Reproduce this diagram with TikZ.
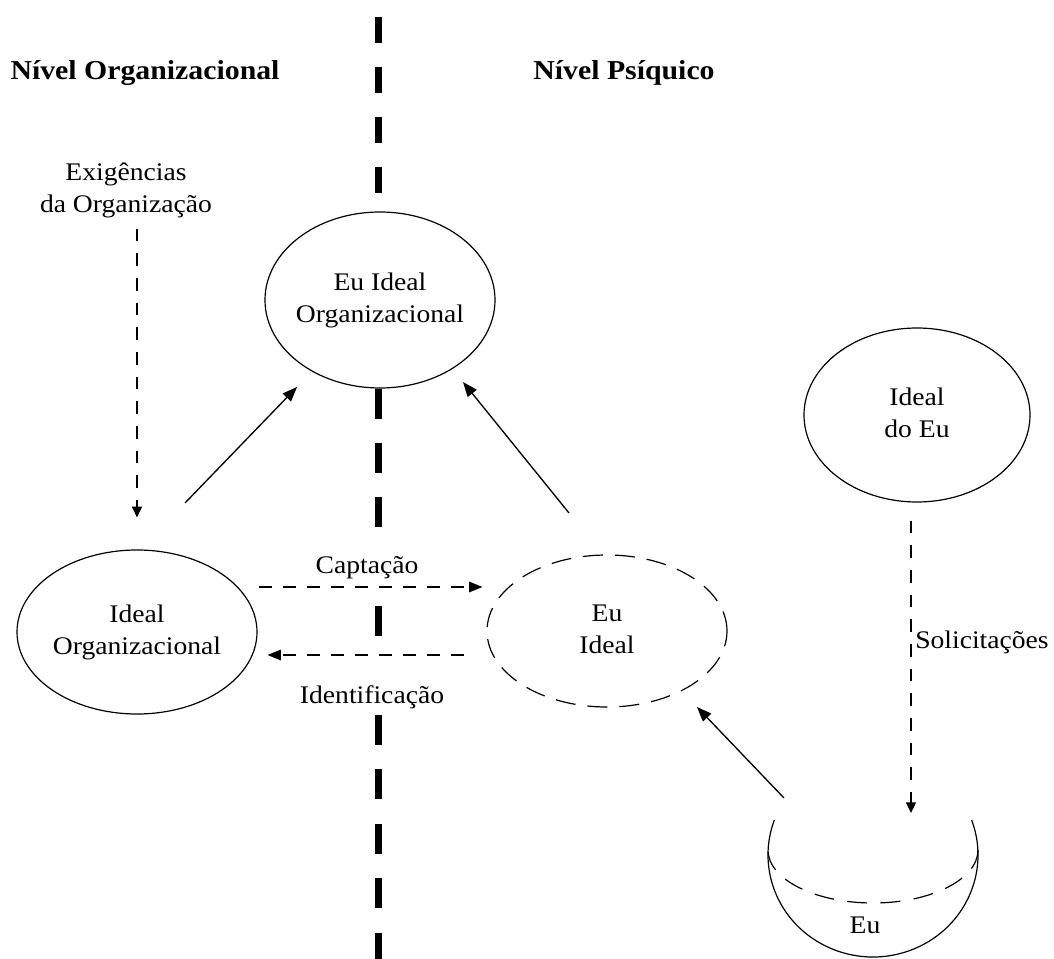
\documentclass[tikz,border=0pt]{standalone}
\usepackage{fontspec}
\setmainfont{Liberation Serif}[FakeStretch=1.09]
\usetikzlibrary{shapes.geometric,arrows.meta,calc}
\newcommand{\ctxt}[1]{\makebox[0pt]{\begin{tabular}{@{}c@{}}#1\end{tabular}}}
\begin{document}
\begin{tikzpicture}[x=0.75pt,y=-0.75pt,
  ttl/.style={font=\fontsize{20.5}{24}\selectfont\bfseries, inner sep=0pt, anchor=base},
  txt/.style={font=\fontsize{19}{24}\selectfont, inner sep=0pt},
  ell/.style={ellipse, draw, line width=0.9pt, inner sep=0pt, fill=white, font=\fontsize{19}{24}\selectfont},
  dell/.style={ell, dash pattern=on 15pt off 9pt},
  lbl/.style={font=\fontsize{19}{24}\selectfont, fill=white, inner sep=1.5pt, anchor=base},
  sarr/.style={line width=1pt, -{Triangle[length=11pt,width=8.5pt]}},
  darr/.style={line width=0.9pt, dash pattern=on 9.75pt off 8.25pt, -{Triangle[length=10pt,width=8pt]}},
  vdarr/.style={line width=0.9pt, dash pattern=on 9.5pt off 9pt, -{Triangle[length=8pt,width=7.5pt]}},
  rim/.style={line width=0.9pt},
  divider/.style={line width=5.25pt}
]
\useasboundingbox (0,0) rectangle (1054,959);

% titles
\node[ttl] (t1) at (145,80) {Nível Organizacional};
\node[ttl] (t2) at (624,80) {Nível Psíquico};

% ellipse nodes
\node[ell, minimum width=172.5pt, minimum height=132pt] (eio) at (380,300) {\ctxt{Eu Ideal\\Organizacional}};
\node[ell, minimum width=180pt, minimum height=123pt] (io) at (137,632) {\ctxt{Ideal\\Organizacional}};
\node[dell, minimum width=180pt, minimum height=114pt] (ei) at (607,631) {\ctxt{Eu\\Ideal}};
\node[ell, minimum width=169.5pt, minimum height=130.5pt] (ide) at (917,415) {\ctxt{Ideal\\do Eu}};

% divider
\coordinate (dtop) at (378,0);
\coordinate (dbot) at (378,959);
\draw[divider, dash pattern=on 19.5pt off 18pt, dash phase=24.75pt] (dtop) -- (dtop |- eio.north);
\draw[divider, dash pattern=on 22.5pt off 18.3pt] (dbot |- eio.south) -- (dbot);

% other texts
\node[txt] (exig) at (126,190) {\ctxt{Exigências\\da Organização}};
\node[lbl, text height=16.5pt, text depth=9pt] (capt) at (367,573) {Captação};
\node[lbl, text height=30pt, text depth=6pt] (ident) at (372,703) {Identificação};
\node[txt, anchor=base west] (solic) at (915,648) {Solicitações};

% Eu bowl
\coordinate (bowl) at (873,855);
\coordinate (bowlrim) at (873,850);
\draw[rim] ([shift={(-20:105 and 102)}]bowl) arc[start angle=-20, end angle=200, x radius=105, y radius=102];
\draw[rim, dash pattern=on 15pt off 10pt] ([shift={(0:105 and 53)}]bowlrim) arc[start angle=0, end angle=180, x radius=105, y radius=53];
\node[txt, anchor=base] (eu) at (865,933) {Eu};

% connectors
\draw[vdarr, shorten <=4.8pt, shorten >=24pt] (exig.south -| io.north) -- (io.north);
\draw[sarr] ($(io.center)+(48,-129)$) -- ($(eio.center)+(-83,87)$);
\draw[sarr] ($(ei.center)+(-38,-118)$) -- ($(eio.center)+(83,82)$);
\draw[darr] ($(io.east)+(1,-45)$) -- ($(ei.west)+(-4,-44)$);
\draw[darr] ($(ei.west)+(-22,24)$) -- ($(io.east)+(10,23)$);
\draw[vdarr] ($(ide.south)+(-6,18)$) -- ($(bowl)+(38,-42)$);
\draw[sarr] ($(bowl)+(-89,-57)$) -- ($(ei.center)+(90,76)$);
\end{tikzpicture}
\end{document}
